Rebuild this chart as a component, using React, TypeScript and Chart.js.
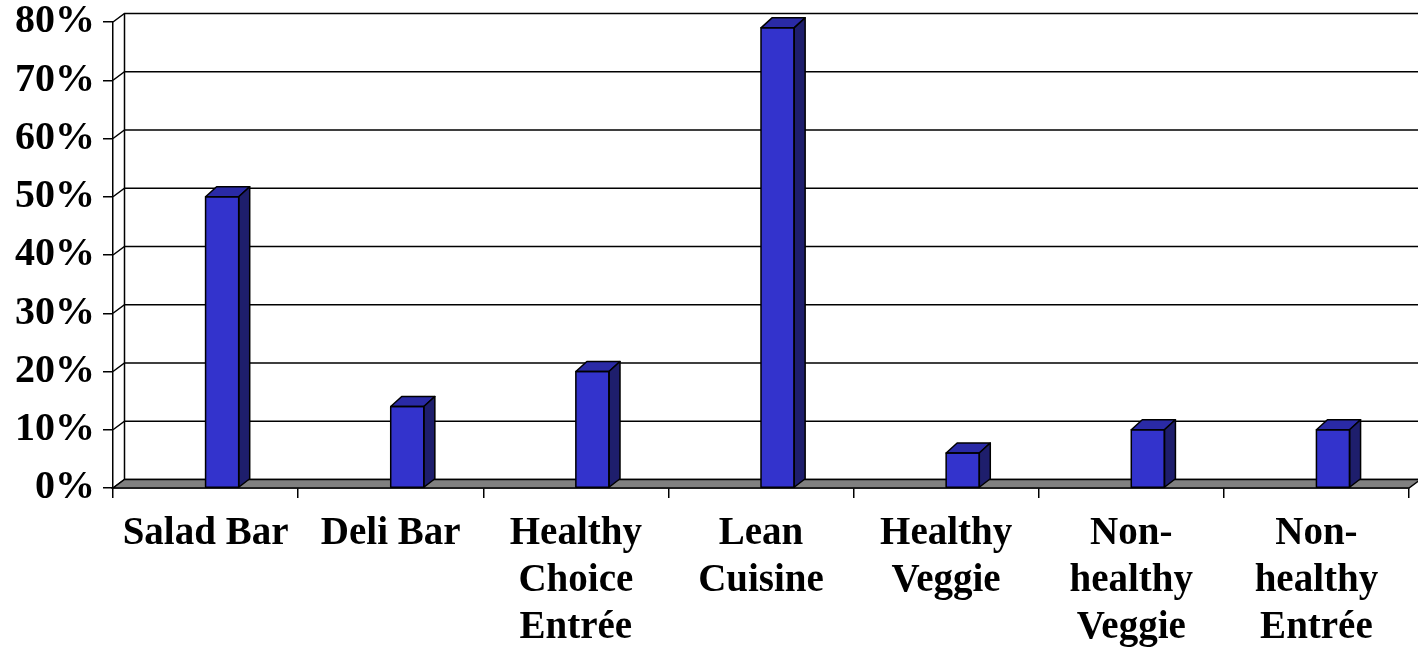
import React, { useEffect, useRef } from "react";
import { Chart, registerables } from "chart.js";

Chart.register(...registerables);

const categories: (string | string[])[] = [
  "Salad Bar",
  "Deli Bar",
  ["Healthy", "Choice", "Entrée"],
  ["Lean", "Cuisine"],
  ["Healthy", "Veggie"],
  ["Non-", "healthy", "Veggie"],
  ["Non-", "healthy", "Entrée"],
];
const values: number[] = [50, 14, 20, 79, 6, 10, 10];
const spacer: (number | null)[] = values.map(() => null);
const yMin = 0;
const yMax = 80;
const yStep = 10;

const DX = 11.5;
const DY = -8.5;
const BDX = 11;
const BDY = -10;

const threeD = {
  id: "threeD",
  beforeDatasetsDraw(chart: any) {
    const { ctx, chartArea, scales } = chart;
    const { left, right, bottom } = chartArea;
    const y = scales.y;
    ctx.save();
    ctx.lineWidth = 1.5;
    ctx.strokeStyle = "#000";
    y.ticks.forEach((t: any) => {
      const py = y.getPixelForValue(t.value);
      ctx.beginPath();
      ctx.moveTo(left, py);
      ctx.lineTo(left + DX, py + DY);
      ctx.lineTo(right + DX + 30, py + DY);
      ctx.stroke();
    });
    ctx.beginPath();
    ctx.moveTo(left + DX, y.getPixelForValue(y.max) + DY);
    ctx.lineTo(left + DX, bottom + DY);
    ctx.stroke();
    ctx.beginPath();
    ctx.moveTo(left, bottom);
    ctx.lineTo(right, bottom);
    ctx.lineTo(right + DX, bottom + DY);
    ctx.lineTo(left + DX, bottom + DY);
    ctx.closePath();
    ctx.fillStyle = "#808080";
    ctx.fill();
    ctx.stroke();
    ctx.restore();
  },
  afterDatasetsDraw(chart: any) {
    const { ctx } = chart;
    const meta = chart.getDatasetMeta(1);
    ctx.save();
    ctx.lineWidth = 1.5;
    ctx.strokeStyle = "#000";
    ctx.lineJoin = "round";
    meta.data.forEach((bar: any) => {
      const { x, y, base, width } = bar.getProps(["x", "y", "base", "width"], true);
      if (y == null || isNaN(y)) return;
      const l = x - width / 2;
      const r = x + width / 2;
      ctx.beginPath();
      ctx.moveTo(l, y);
      ctx.lineTo(l + BDX, y + BDY);
      ctx.lineTo(r + BDX, y + BDY);
      ctx.lineTo(r, y);
      ctx.closePath();
      ctx.fillStyle = "#2a2aa6";
      ctx.fill();
      ctx.stroke();
      ctx.beginPath();
      ctx.moveTo(r, y);
      ctx.lineTo(r + BDX, y + BDY);
      ctx.lineTo(r + BDX, base + DY);
      ctx.lineTo(r, base);
      ctx.closePath();
      ctx.fillStyle = "#1e1e6c";
      ctx.fill();
      ctx.stroke();
      ctx.strokeRect(l, y, width, base - y);
    });
    ctx.restore();
  },
};

const FONT_FAMILY = "'Liberation Serif', 'Times New Roman', serif";

export default function App() {
  const ref = useRef<HTMLCanvasElement | null>(null);

  useEffect(() => {
    document.body.style.margin = "0";
    const canvas = ref.current;
    if (!canvas) return;
    const chart = new Chart(canvas, {
      type: "bar",
      data: {
        labels: categories as any,
        datasets: [
          {
            data: spacer as any,
            backgroundColor: "#3333cc",
          },
          {
            data: values,
            backgroundColor: "#3333cc",
            borderColor: "#000",
            borderWidth: 0,
          },
        ],
      },
      options: {
        responsive: false,
        animation: false,
        layout: { padding: { top: 22, right: 9, left: 0, bottom: 0 } },
        plugins: {
          legend: { display: false },
          tooltip: { enabled: false },
        },
        datasets: {
          bar: {
            categoryPercentage: 0.358,
            barPercentage: 1.0,
          },
        },
        scales: {
          x: {
            grid: {
              display: true,
              drawOnChartArea: false,
              color: "#000",
              lineWidth: 1.5,
              tickLength: 10,
            },
            border: { display: true, color: "#000", width: 1.5 },
            ticks: {
              color: "#000",
              padding: 12,
              maxRotation: 0,
              autoSkip: false,
              font: { family: FONT_FAMILY, size: 39, weight: "bold", lineHeight: "47px" as any },
            },
            afterFit(scale: any) {
              scale.height = 159;
            },
          },
          y: {
            min: yMin,
            max: yMax,
            grid: {
              display: true,
              drawOnChartArea: false,
              color: "#000",
              lineWidth: 1.5,
              tickLength: 10,
            },
            border: { display: true, color: "#000", width: 1.5 },
            ticks: {
              stepSize: yStep,
              color: "#000",
              padding: 8,
              callback: (v: any) => `${v}%`,
              font: { family: FONT_FAMILY, size: 40, weight: "bold", lineHeight: 1 },
            },
            afterFit(scale: any) {
              scale.width = 113;
              scale.paddingTop = 0;
              scale.paddingBottom = 0;
            },
          },
        },
      },
      plugins: [threeD],
    });
    return () => chart.destroy();
  }, []);

  return (
    <div style={{ width: 1418, height: 647, overflow: "hidden" }}>
      <canvas ref={ref} width={1418} height={647} style={{ display: "block" }} />
    </div>
  );
}
